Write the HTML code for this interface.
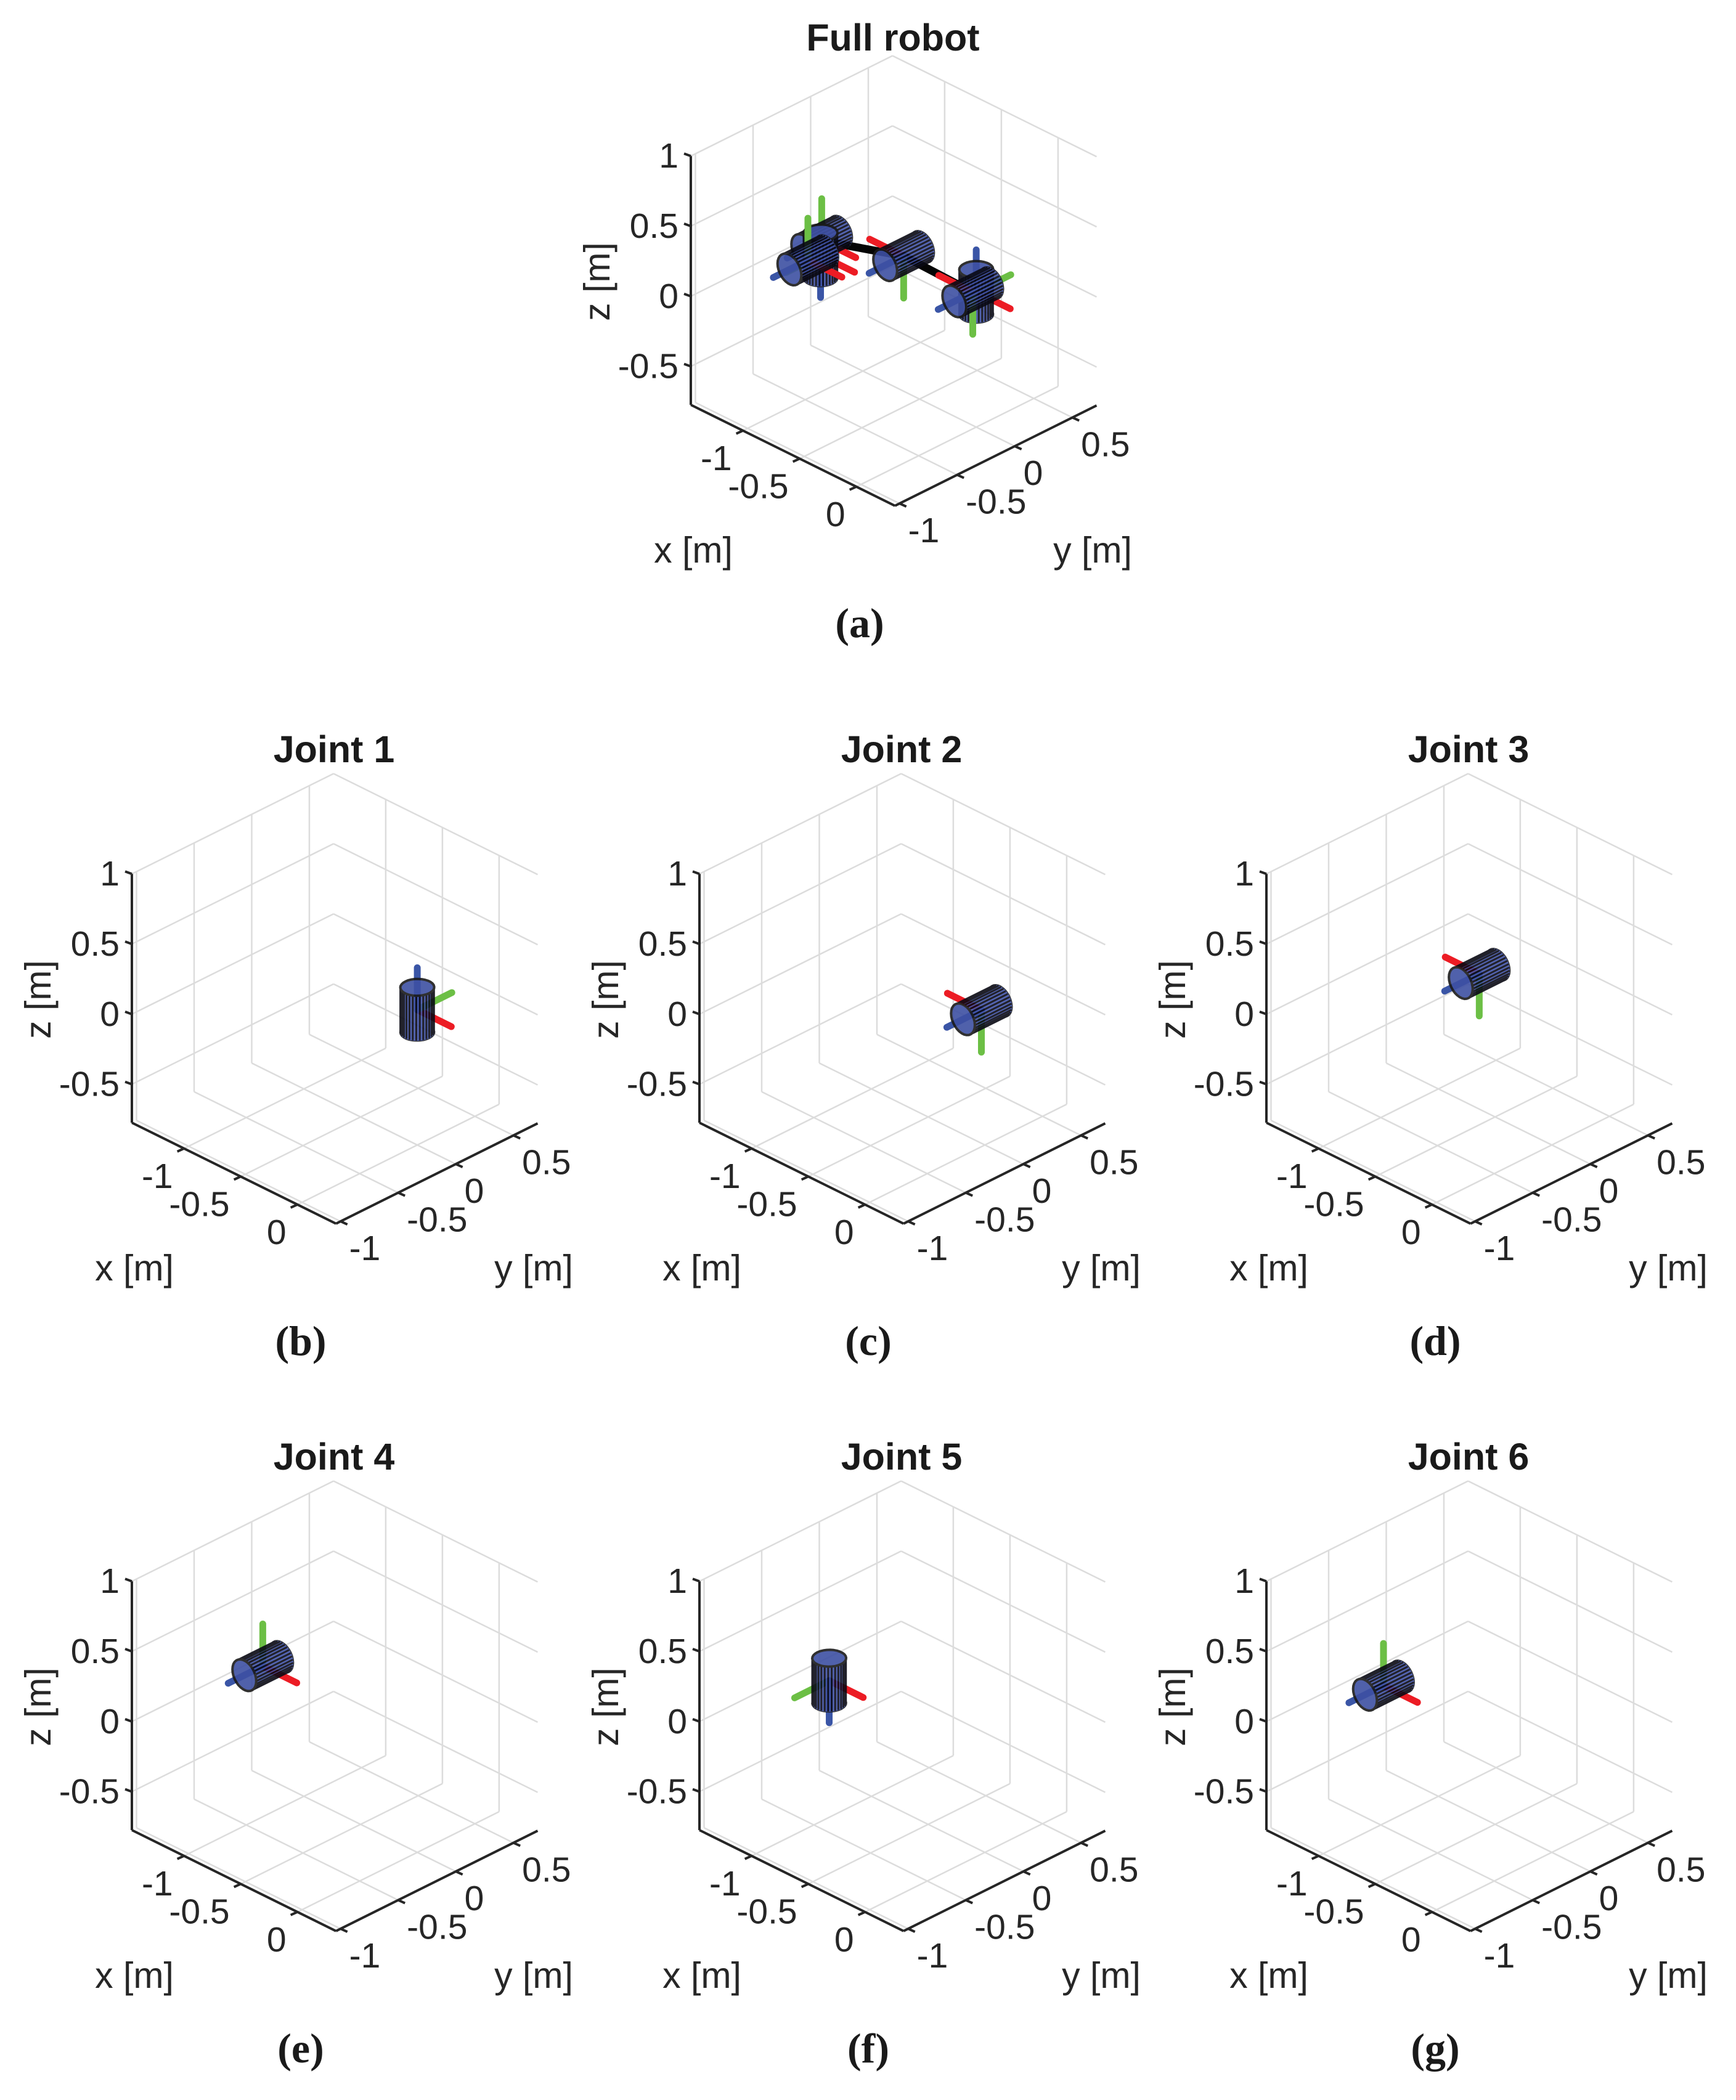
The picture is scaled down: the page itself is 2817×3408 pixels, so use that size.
<!DOCTYPE html>
<html><head><meta charset="utf-8"><title>Robot joints figure</title>
<style>
html,body{margin:0;padding:0;background:#fff;}
svg{display:block;}
.tk{font-family:"Liberation Sans",sans-serif;font-size:57px;fill:#262626;}
.al{font-family:"Liberation Sans",sans-serif;font-size:59px;fill:#262626;}
.tt{font-family:"Liberation Sans",sans-serif;font-size:61px;font-weight:bold;fill:#1a1a1a;}
.cap{font-family:"Liberation Serif",serif;font-size:68px;font-weight:bold;fill:#1a1a1a;}
</style></head>
<body>
<svg id="fig" width="2817" height="3408" viewBox="0 0 2817 3408" xmlns="http://www.w3.org/2000/svg"></svg>
<script>
// ---- data ----
const xTicks = [-1, -0.5, 0];
const yTicks = [-1, -0.5, 0, 0.5];
const zTicks = [-0.5, 0, 0.5, 1];
const xTickLabels = ["-1", "-0.5", "0"];
const yTickLabels = ["-1", "-0.5", "0", "0.5"];
const zTickLabels = ["-0.5", "0", "0.5", "1"];
const jointX = [0, 0, -0.64, -1.2, -1.2, -1.2];
const jointY = [0, -0.03, 0, -0.16, -0.17, -0.28];
const jointZ = [0.19, 0.2, 0.19, 0.14, 0.04, 0.05];
const frameRed = [[1,0,0],[-1,0,0],[-1,0,0],[1,0,0],[1,0,0],[1,0,0]];
const frameGreen = [[0,1,0],[0,0,-1],[0,0,-1],[0,0,1],[0,-1,0],[0,0,1]];
const frameBlue = [[0,0,1],[0,-1,0],[0,-1,0],[0,-1,0],[0,0,-1],[0,-1,0]];
const xmin=-1.46, xmax=0.34, ymin=-1.04, ymax=0.71, zmin=-0.774, zmax=1;

const panels = [
 {L:[1121,657], title:"Full robot", cap:"(a)", joints:[0,1,2,3,4,5], link:true, id:"a", tdy:-596},
 {L:[214,1822], title:"Joint 1", cap:"(b)", joints:[0], id:"b", tdy:-606},
 {L:[1135,1822], title:"Joint 2", cap:"(c)", joints:[1], id:"c", tdy:-606},
 {L:[2055,1822], title:"Joint 3", cap:"(d)", joints:[2], id:"d", tdy:-606},
 {L:[214,2970], title:"Joint 4", cap:"(e)", joints:[3], id:"e", tdy:-606},
 {L:[1135,2970], title:"Joint 5", cap:"(f)", joints:[4], id:"f", tdy:-606},
 {L:[2055,2970], title:"Joint 6", cap:"(g)", joints:[5], id:"g", tdy:-606}
];

const NS="http://www.w3.org/2000/svg";
const svg=document.getElementById('fig');
function P(L,x,y,z){return [L[0]+(x-xmin)*184+(y-ymin)*187, L[1]+(x-xmin)*91-(y-ymin)*93-(z-zmin)*227.6];}
function el(tag,parent){const e=document.createElementNS(NS,tag);parent.appendChild(e);return e;}
function line(g,a,b,stroke,w){const l=el('line',g);l.setAttribute('x1',a[0]);l.setAttribute('y1',a[1]);l.setAttribute('x2',b[0]);l.setAttribute('y2',b[1]);l.setAttribute('stroke',stroke);l.setAttribute('stroke-width',w);return l;}
function text(g,x,y,s,cls,anchor){const t=el('text',g);t.setAttribute('x',x);t.setAttribute('y',y);t.setAttribute('class',cls);t.setAttribute('text-anchor',anchor||'middle');t.setAttribute('dominant-baseline','central');t.textContent=s;return t;}
function poly(g,pts,fill,stroke,w,closed){const p=el(closed?'polygon':'polyline',g);p.setAttribute('points',pts.map(q=>q[0].toFixed(1)+','+q[1].toFixed(1)).join(' '));p.setAttribute('fill',fill);p.setAttribute('stroke',stroke);p.setAttribute('stroke-width',w);p.setAttribute('stroke-linejoin','round');return p;}
const V=[1,-0.984,0.802];
function dot(a,b){return a[0]*b[0]+a[1]*b[1]+a[2]*b[2];}
const GRID="#dcdcdc";

panels.forEach(pn=>{
  const L=pn.L;
  const g=el('g',svg);
  
  
  const grid=el('g',g);
  
  
  yTicks.forEach(y=>{line(grid,P(L,xmin,y,zmin),P(L,xmin,y,zmax),GRID,2.5);});
  zTicks.forEach(z=>{line(grid,P(L,xmin,ymin,z),P(L,xmin,ymax,z),GRID,2.5);});
  xTicks.forEach(x=>{line(grid,P(L,x,ymax,zmin),P(L,x,ymax,zmax),GRID,2.5);});
  zTicks.forEach(z=>{line(grid,P(L,xmin,ymax,z),P(L,xmax,ymax,z),GRID,2.5);});
  xTicks.forEach(x=>{line(grid,P(L,x,ymin,zmin),P(L,x,ymax,zmin),GRID,2.5);});
  yTicks.forEach(y=>{line(grid,P(L,xmin,y,zmin),P(L,xmax,y,zmin),GRID,2.5);});

  const ax=el('g',g);
  
  
  const za=line(ax,P(L,xmin,ymin,zmin),P(L,xmin,ymin,zmax),'#262626',4);
  
  
  const xa=line(ax,P(L,xmin,ymin,zmin),P(L,xmax,ymin,zmin),'#262626',4);
  
  
  const ya=line(ax,P(L,xmax,ymin,zmin),P(L,xmax,ymax,zmin),'#262626',4);
  
  
  zTicks.forEach((z,i)=>{const p=P(L,xmin,ymin,z);line(ax,p,[p[0]-11,p[1]-4],'#262626',4);
    const t=text(ax,p[0]-20,p[1],zTickLabels[i],'tk','end');
    
    });
  xTicks.forEach((x,i)=>{const p=P(L,x,ymin,zmin);line(ax,p,[p[0]-11,p[1]+5],'#262626',4);
    const t=text(ax,p[0]-18,p[1]+45,xTickLabels[i],'tk','end');
    
    });
  yTicks.forEach((y,i)=>{const p=P(L,xmax,y,zmin);line(ax,p,[p[0]+11,p[1]+5],'#262626',4);
    const t=text(ax,p[0]+14,p[1]+44,yTickLabels[i],'tk','start');
    
    });
  const xl=text(ax,L[0]+4,L[1]+236,'x [m]','al');
  
  
  const yl=text(ax,L[0]+652,L[1]+236,'y [m]','al');
  
  
  const zl=text(ax,L[0]-152,L[1]-200,'z [m]','al');
  zl.setAttribute('transform','rotate(-90 '+(L[0]-152)+' '+(L[1]-200)+')');
  
  
  const tt=text(g,L[0]+328,L[1]+pn.tdy,pn.title,'tt');
  
  
  const cp=text(g,L[0]+274,L[1]+354,pn.cap,'cap');
  
  

  const rb=el('g',g);
  
  
  if(pn.link){
    const pts=pn.joints.map(j=>P(L,jointX[j],jointY[j],jointZ[j]));
    const lk=poly(rb,pts,'none','#050505',13,false);
    lk.setAttribute('stroke-linecap','round');
    
    
  }
  const AL=0.3;
  pn.joints.forEach(j=>{
    const c=[jointX[j],jointY[j],jointZ[j]];
    const fg=el('g',rb);
    
    
    [[frameRed[j],'#ec1c24','x'],[frameGreen[j],'#6cbf45','y'],[frameBlue[j],'#3a55a6','z']].forEach(([d,col,nm])=>{
      const a=P(L,c[0],c[1],c[2]);
      const b=P(L,c[0]+d[0]*AL,c[1]+d[1]*AL,c[2]+d[2]*AL);
      const l=line(fg,a,b,col,11);
      l.setAttribute('stroke-linecap','round');
      
      
    });
    const w=frameBlue[j], u=frameRed[j], v=frameGreen[j];
    const r=0.105, h=0.16, N=30;
    const top=[],bot=[],nrm=[];
    for(let i=0;i<N;i++){
      const t=2*Math.PI*i/N, cs=Math.cos(t), sn=Math.sin(t);
      const n=[cs*u[0]+sn*v[0],cs*u[1]+sn*v[1],cs*u[2]+sn*v[2]];
      nrm.push(n);
      top.push(P(L,c[0]+w[0]*h+r*n[0],c[1]+w[1]*h+r*n[1],c[2]+w[2]*h+r*n[2]));
      bot.push(P(L,c[0]-w[0]*h+r*n[0],c[1]-w[1]*h+r*n[1],c[2]-w[2]*h+r*n[2]));
    }
    const cg=el('g',rb);
    
    
    cg.setAttribute('opacity','0.9');
    const frontTop=dot(w,V)>0;
    const backCap=frontTop?bot:top, frontCap=frontTop?top:bot;
    poly(cg,backCap,'#3f51a5','#1a1a1a',3.5,true);
    for(let i=0;i<N;i++){const k=(i+1)%N;poly(cg,[top[i],top[k],bot[k],bot[i]],'#4255aa','#4255aa',1,true);}
    for(let i=0;i<N;i++){if(dot(nrm[i],V)>0.02){line(cg,top[i],bot[i],'#0a0a14',3);}}
    poly(cg,frontCap,'#3e50a3','#1a1a1a',4,true);
  });
});
</script>
</body></html>
